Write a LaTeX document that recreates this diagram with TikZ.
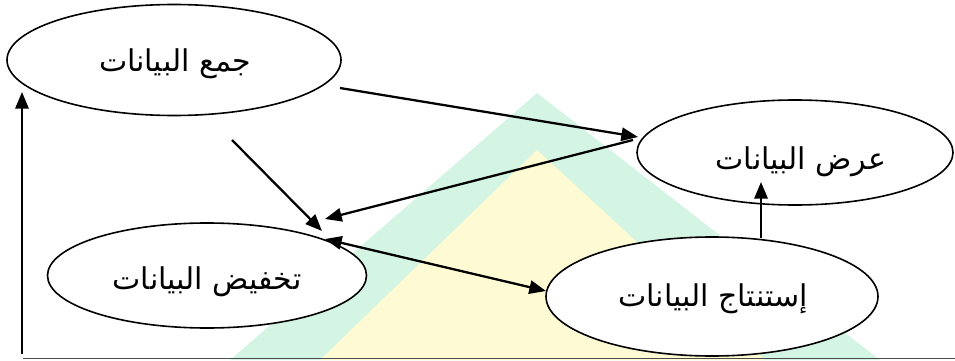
\documentclass[tikz,border=0pt]{standalone}
\usepackage{fontspec}
\usetikzlibrary{shapes.geometric,arrows.meta}
\newfontfamily\arabicfont[Script=Arabic]{DejaVu Sans}
\TeXXeTstate=1
\definecolor{wmgreen}{RGB}{212,245,228}
\definecolor{wmyellow}{RGB}{253,250,212}
\tikzset{
  stage/.style={draw=black, line width=1.2pt, ellipse, fill=white, inner sep=0pt},
  lbl/.style={font=\arabicfont\fontsize{22.5}{26}\selectfont, inner sep=0pt},
  flow/.style={line width=1.7pt, -{Triangle[length=12.5pt,width=10pt]}},
  flowboth/.style={line width=1.7pt, {Triangle[length=12.5pt,width=10pt]}-{Triangle[length=12.5pt,width=10pt]}},
}
\begin{document}
\begin{tikzpicture}[x=0.75pt,y=-0.75pt]
\useasboundingbox (0,0) rectangle (955,360);
% watermark
\fill[wmgreen] (537,93) -- (880,360) -- (230,360) -- cycle;
\fill[wmyellow] (537,150) -- (765,360) -- (320,360) -- cycle;
% stages
\node[stage, minimum width=250.5pt, minimum height=83.25pt] (E1) at (174,60) {};
\node[stage, minimum width=237pt, minimum height=78.75pt] (E2) at (795,152.5) {};
\node[stage, minimum width=239.25pt, minimum height=78.75pt] (E3) at (207,275.5) {};
\node[stage, minimum width=249pt, minimum height=89.25pt] (E4) at (712,296.5) {};
\node[lbl] (T1) at (175,64) {\beginR جمع البيانات\endR};
\node[lbl] (T2) at (801,162) {\beginR عرض البيانات\endR};
\node[lbl] (T3) at (207,282) {\beginR تخفيض البيانات\endR};
\node[lbl] (T4) at (713,299) {\beginR إستنتاج البيانات\endR};
% connector ends
\coordinate (a1s) at (340,88);
\coordinate (a1e) at (638,137);
\coordinate (a2s) at (633,140);
\coordinate (a2e) at (325,219);
\coordinate (a3s) at (232,140);
\coordinate (a3e) at (322,231);
\coordinate (a4s) at (325,239);
\coordinate (a4e) at (546,291);
\coordinate (a5s) at (761,238);
\coordinate (a5e) at (761,182);
\coordinate (a6s) at (22,354);
\coordinate (a6e) at (22,92);
\coordinate (bl) at (23,358.5);
\coordinate (br) at (955,358.5);
\draw[flow] (a1s) -- (a1e);
\draw[flow] (a2s) -- (a2e);
\draw[flow] (a3s) -- (a3e);
\draw[flowboth] (a4s) -- (a4e);
\draw[flow] (a5s) -- (a5e);
\draw[flow] (a6s) -- (a6e);
\draw[line width=1.1pt, black!70] (bl) -- (br);
\end{tikzpicture}
\end{document}
